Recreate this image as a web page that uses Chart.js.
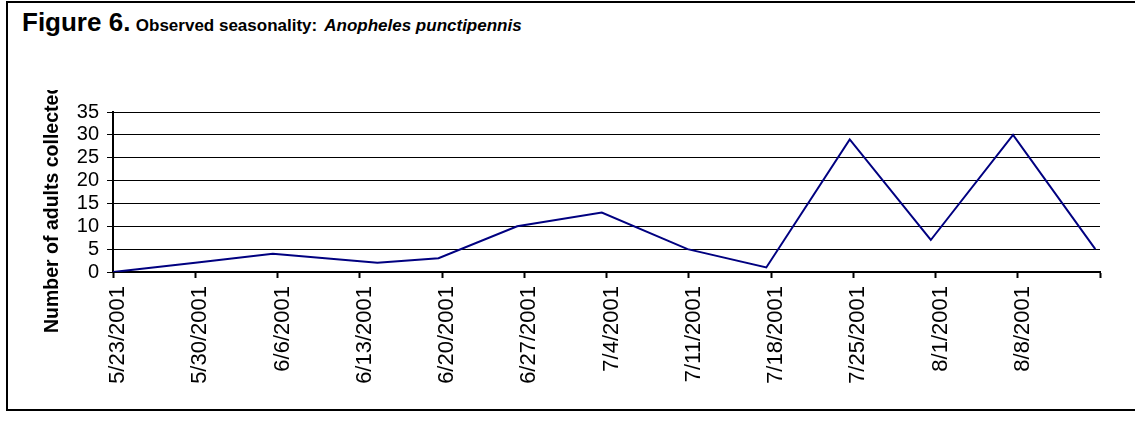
<!DOCTYPE html>
<html>
<head>
<meta charset="utf-8">
<script src="https://cdn.jsdelivr.net/npm/chart.js@4/dist/chart.umd.min.js"></script>
<style>
  html, body { margin: 0; padding: 0; background: #fff; }
  #frame { position: absolute; left: 6px; top: 1px; width: 1140px; height: 410px; border: 2px solid #000; box-sizing: border-box; }
  #title { position: absolute; left: 22px; top: 7px; font-family: "Liberation Sans", Arial, sans-serif; font-weight: bold; color: #000; white-space: nowrap; }
  #title .big { font-size: 26px; }
  #title .sub { font-size: 17px; margin-left: 1px; }
  #title .sp { font-size: 17px; font-style: italic; margin-left: 7px; }
  #wrap { position: absolute; left: 0; top: 0; }
</style>
</head>
<body>
<div id="frame"></div>
<div id="title"><span class="big">Figure 6.</span> <span class="sub">Observed seasonality:</span><span class="sp">Anopheles punctipennis</span></div>
<div id="wrap"><canvas id="chart" width="1135" height="423"></canvas></div>
<script>
// weekly tick labels (last tick at 8/15 has no label in the original)
var tickLabels = ['5/23/2001', '5/30/2001', '6/6/2001', '6/13/2001', '6/20/2001', '6/27/2001',
                  '7/4/2001', '7/11/2001', '7/18/2001', '7/25/2001', '8/1/2001', '8/8/2001', ''];
// collection day, counted in days after 5/23/2001
var sampleDays = [0, 7, 13.6, 22.5, 27.7, 34.4, 41.6, 48.9, 55.6, 62.7, 69.6, 76.6, 83.6];
var adultCounts = [0, 2, 4, 2, 3, 10, 13, 5, 1, 29, 7, 30, 5];
var yTitle = 'Number of adults collected';

var FONT = '"Liberation Sans", Arial, sans-serif';

var points = [];
for (var i = 0; i < sampleDays.length; i++) {
    points.push({ x: sampleDays[i], y: adultCounts[i] });
}

// y title is clipped at the top like in the original
var yTitlePlugin = {
    id: 'yTitle',
    afterDraw: function (chart) {
        var ctx = chart.ctx;
        ctx.save();
        ctx.beginPath();
        ctx.rect(0, 90, 110, 300);
        ctx.clip();
        ctx.translate(58, 333);
        ctx.rotate(-Math.PI / 2);
        ctx.font = 'bold 19.5px ' + FONT;
        ctx.fillStyle = '#000';
        ctx.textAlign = 'left';
        ctx.textBaseline = 'alphabetic';
        ctx.fillText(yTitle, 0, 0);
        ctx.restore();
    }
};

new Chart(document.getElementById('chart'), {
    type: 'line',
    data: {
        datasets: [{
            data: points,
            borderColor: '#000080',
            borderWidth: 2,
            pointRadius: 0,
            tension: 0,
            fill: false
        }]
    },
    options: {
        responsive: false,
        animation: false,
        devicePixelRatio: 1,
        layout: { padding: { top: 112, right: 35, bottom: 0, left: 0 } },
        plugins: { legend: { display: false }, tooltip: { enabled: false } },
        scales: {
            x: {
                type: 'linear',
                min: 0,
                max: 84,
                afterFit: function (s) { s.height = 151; },
                grid: { drawOnChartArea: false, drawTicks: true, tickLength: 6, color: '#000', tickWidth: 2 },
                border: { color: '#000', width: 2 },
                ticks: {
                    stepSize: 7,
                    autoSkip: false,
                    maxRotation: 90,
                    minRotation: 90,
                    labelOffset: 5,
                    padding: 8,
                    color: '#000',
                    font: { family: FONT, size: 22 },
                    callback: function (v) { return tickLabels[Math.round(v / 7)] || ''; }
                }
            },
            y: {
                min: 0,
                max: 35,
                afterFit: function (s) { s.width = 113; },
                grid: { color: '#000', lineWidth: 1, tickLength: 6 },
                border: { color: '#000', width: 2 },
                ticks: {
                    stepSize: 5,
                    autoSkip: false,
                    padding: 8,
                    color: '#000',
                    font: { family: FONT, size: 20 }
                }
            }
        }
    },
    plugins: [yTitlePlugin]
});
</script>
</body>
</html>
